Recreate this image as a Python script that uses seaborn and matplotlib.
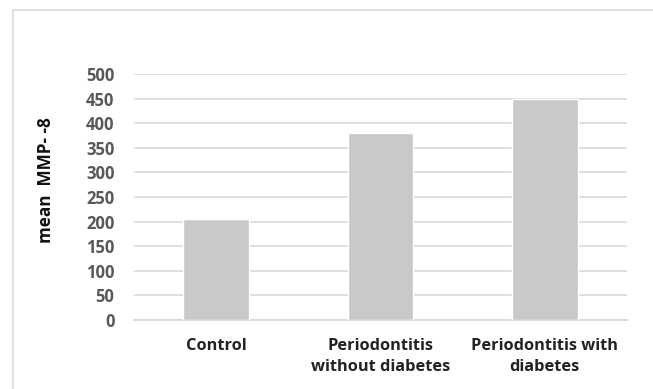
import matplotlib
matplotlib.use("Agg")
import matplotlib.pyplot as plt
import seaborn as sns
import pandas as pd
from matplotlib.lines import Line2D

categories = ["Control", "Periodontitis\nwithout diabetes", "Periodontitis with\ndiabetes"]
mean_mmp8 = [205, 380, 450]
yticks = [0, 50, 100, 150, 200, 250, 300, 350, 400, 450, 500]

sns.set_theme(style="white")
plt.rcParams['font.family'] = ['Open Sans', 'DejaVu Sans']

df = pd.DataFrame({"group": categories, "value": mean_mmp8})

fig = plt.figure(figsize=(6.53, 3.89), dpi=100)
ax = fig.add_axes([134/653, 1-320/389, (627-134)/653, (320-74)/389])

sns.barplot(data=df, x="group", y="value", color="#c8c9cb", width=0.4,
            saturation=1, ax=ax, zorder=3)

ax.set_ylim(0, 500)
ax.set_xlim(-0.5, 2.5)
ax.set_yticks(yticks)
ax.set_yticklabels([str(t) for t in yticks], color="#595959", fontsize=12, fontweight="bold")
ax.tick_params(axis="x", length=0, pad=13)
ax.tick_params(axis="y", length=0, pad=14)
for lbl in ax.get_xticklabels():
    lbl.set_fontsize(11.8)
    lbl.set_fontweight("bold")
    lbl.set_color("#222222")
    lbl.set_linespacing(1.45)
ax.yaxis.grid(True, color="#d9d9d9", linewidth=1.2, zorder=0)
ax.set_axisbelow(True)
for s in ["top", "right", "left"]:
    ax.spines[s].set_visible(False)
ax.spines["bottom"].set_color("#d9d9d9")
ax.spines["bottom"].set_linewidth(1.4)
ax.set_xlabel("")
ax.set_ylabel("")

fig.text(46/653, 1-180/389, "mean  MMP- -8", rotation=90, ha="center", va="center",
         fontsize=12.3, fontweight="bold", color="#111111")

# outer chart frame
fig.add_artist(Line2D([13/653, 1], [1-10/389, 1-10/389], color="#d9d9d9", linewidth=1.2,
                      transform=fig.transFigure))
fig.add_artist(Line2D([13/653, 13/653], [0, 1-10/389], color="#d9d9d9", linewidth=1.2,
                      transform=fig.transFigure))

fig.savefig("out.png", dpi=100)
